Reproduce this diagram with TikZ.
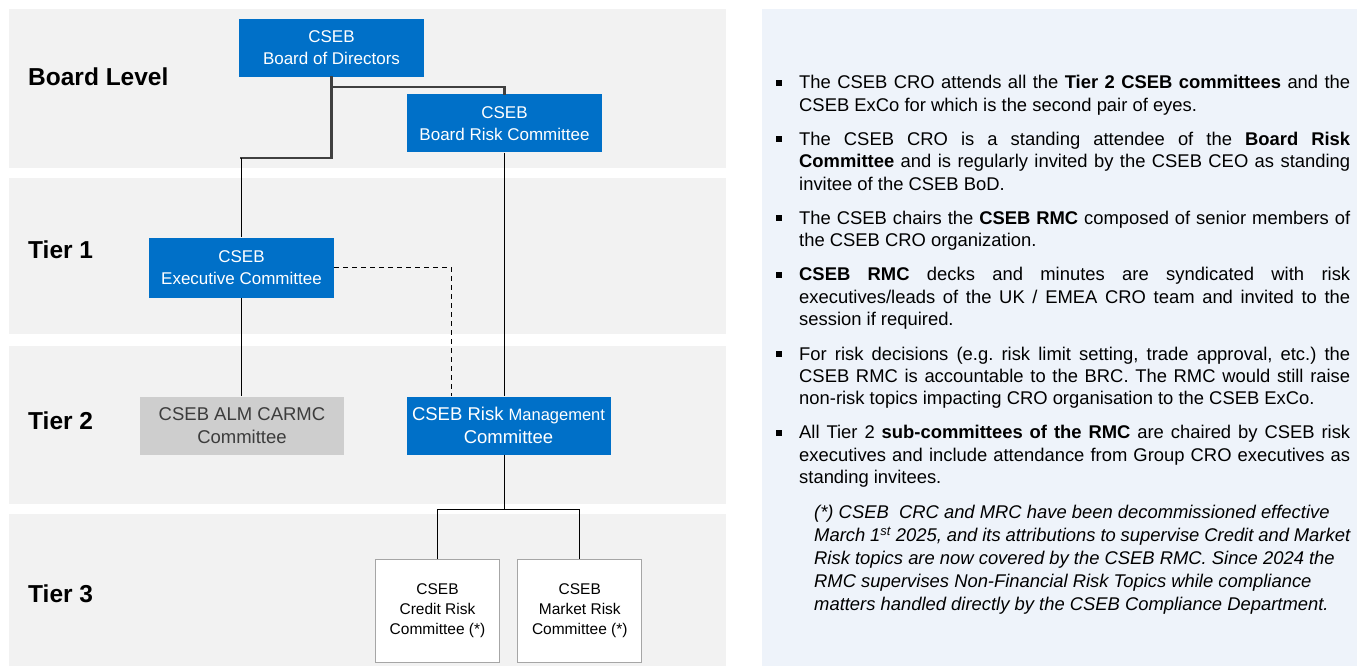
\documentclass[tikz,border=0pt]{standalone}
\usepackage{fontspec}
\setmainfont{Liberation Sans}
\usepackage{xcolor}
\usepackage{tikz}
\definecolor{csebblue}{HTML}{0070C8}
\definecolor{bandgray}{HTML}{F2F2F2}
\definecolor{almgray}{HTML}{CECECE}
\definecolor{almtext}{HTML}{3C3C3C}
\definecolor{panelblue}{HTML}{EEF3FA}
\definecolor{framegray}{HTML}{A6A6A6}
\setlength{\parskip}{0pt}
\frenchspacing
\tolerance=9999
\newcommand{\pointmark}{\noindent\llap{\rule[3pt]{6pt}{6pt}\hspace{17pt}}}
\newcommand{\pointgap}{\par\vspace{11.5pt}}
\tikzset{
  band/.style={fill=bandgray, draw=none},
  panel/.style={fill=panelblue, draw=none},
  link/.style={draw=black, line width=1.3pt},
  trunk/.style={draw=black!75, line width=2.2pt, line cap=rect},
  dashlink/.style={draw=black, line width=1.2pt, dash pattern=on 5pt off 4pt}
}
\usetikzlibrary{positioning, calc}

\begin{document}
\begin{tikzpicture}[
  x=1pt, y=-1pt,
  node distance=17pt,
  tier/.style={anchor=west, inner sep=0pt, font=\fontsize{24.5}{28}\selectfont\bfseries},
  unit/.style={fill=csebblue, text=white, inner sep=0pt, align=center, minimum height=58pt, font=\fontsize{17}{22}\selectfont},
  bigunit/.style={unit, minimum width=204pt, font=\fontsize{18.5}{22.5}\selectfont},
  grayunit/.style={bigunit, fill=almgray, text=almtext},
  subunit/.style={draw=framegray, line width=1.3pt, fill=white, inner sep=0pt, align=center, minimum width=124pt, minimum height=103pt, font=\fontsize{15.5}{20}\selectfont},
  notes/.style={anchor=base west, inner sep=0pt, text width=551pt, align=justify, font=\fontsize{18.4}{22.5}\selectfont}
]
\useasboundingbox (0,0) rectangle (1357,666);
\foreach \top/\bot in {9/168, 178/334, 346/504, 514/666}
  \fill[band] (9,\top) rectangle (726,\bot);
\fill[panel] (762,9) rectangle (1357,666);

\node[tier] (lvlboard) at (28,77) {Board Level};
\node[tier] (lvlone) at (28,250) {Tier 1};
\node[tier] (lvltwo) at (28,421) {Tier 2};
\node[tier] (lvlthree) at (28,594) {Tier 3};

\node[unit, minimum width=185pt] (bod) at (331.5,48) {CSEB\\Board of Directors};
\node[unit, minimum width=195pt] (brc) at (504.5,123.5) {CSEB\\Board Risk Committee};
\node[unit, minimum width=185pt, minimum height=60pt] (exco) at (241.5,267.5) {CSEB\\Executive Committee};
\node[grayunit] (alm) at (242,425.5) {CSEB ALM CARMC\\Committee};
\node[bigunit] (rmc) at (508.5,425.5) {CSEB Risk {\fontsize{16.5}{20}\selectfont Management}\\Committee};
\node[subunit] (crc) at (437.5,611) {CSEB\\Credit Risk\\Committee (*)};
\node[subunit, right=of crc] (mrc) {CSEB\\Market Risk\\Committee (*)};

\draw[trunk] (bod.south) -- ++(0,10) -| (brc.north);
\draw[trunk] (bod.south) -- ++(0,81) coordinate (bend) -- (bend -| exco.north);
\draw[link] (bend -| exco.north) -- (exco.north);
\draw[link] (brc.south) -- (brc.south |- rmc.north);
\draw[link] (exco.south) -- (exco.south |- alm.north);
\draw[dashlink] (exco.east) -| ($(rmc.north)+(-57,0)$);
\draw[link] (brc.south |- rmc.south) -- ++(0,55) coordinate (fork);
\draw[link] (crc.north) |- (fork) -| (mrc.north);

\node[notes] (points) at (799,89) {%
\pointmark The CSEB CRO attends all the \textbf{Tier 2 CSEB committees} and the\linebreak
CSEB ExCo for which is the second pair of eyes.%
\pointgap
\pointmark The CSEB CRO is a standing attendee of the \textbf{Board Risk}\linebreak
\textbf{Committee} and is regularly invited by the CSEB CEO as standing\linebreak
invitee of the CSEB BoD.%
\pointgap
\pointmark The CSEB chairs the \textbf{CSEB RMC} composed of senior members of\linebreak
the CSEB CRO organization.%
\pointgap
\pointmark \textbf{CSEB RMC} decks and minutes are syndicated with risk\linebreak
executives/leads of the UK / EMEA CRO team and invited to the\linebreak
session if required.%
\pointgap
\pointmark For risk decisions (e.g. risk limit setting, trade approval, etc.) the\linebreak
CSEB RMC is accountable to the BRC. The RMC would still raise\linebreak
non-risk topics impacting CRO organisation to the CSEB ExCo.%
\pointgap
\pointmark All Tier 2 \textbf{sub-committees of the RMC} are chaired by CSEB risk\linebreak
executives and include attendance from Group CRO executives as\linebreak
standing invitees.%
\pointgap
{\itshape\leftskip=15pt\rightskip=0pt plus 1fil\baselineskip=23pt\noindent
(*) CSEB\ \ CRC and MRC have been decommissioned effective\newline
March 1\textsuperscript{st} 2025, and its attributions to supervise Credit and Market\newline
Risk topics are now covered by the CSEB RMC. Since 2024 the\newline
RMC supervises Non-Financial Risk Topics while compliance\newline
matters handled directly by the CSEB Compliance Department.\par}};
\end{tikzpicture}
\end{document}
